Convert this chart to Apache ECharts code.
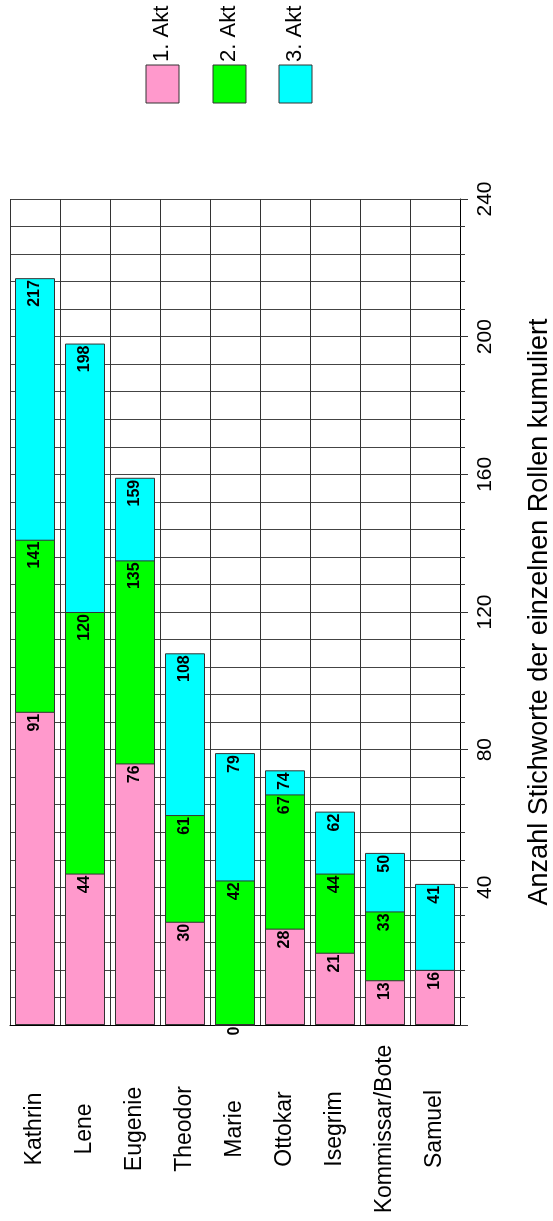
<!DOCTYPE html>
<html>
<head>
<meta charset="utf-8">
<script src="https://cdn.jsdelivr.net/npm/echarts@6/dist/echarts.min.js"></script>
<style>
  html, body { margin: 0; padding: 0; background: #fff; }
  #chart { width: 553px; height: 1221px; }
</style>
</head>
<body>
<div id="chart"></div>
<script>
// Roles of the play, in the order they appear along the category axis
const roles = ['Kathrin', 'Lene', 'Eugenie', 'Theodor', 'Marie', 'Ottokar', 'Isegrim', 'Kommissar/Bote', 'Samuel'];

// Cue counts per role, accumulated act by act
const act1Cumulative = [91, 44, 76, 30, 0, 28, 21, 13, 16];
const act2Cumulative = [141, 120, 135, 61, 42, 67, 44, 33, 16];
const act3Cumulative = [217, 198, 159, 108, 79, 74, 62, 50, 41];

const actNames = ['1. Akt', '2. Akt', '3. Akt'];
const actColors = ['#ff99cc', '#00ff00', '#00ffff'];

const valueTicks = { min: 0, max: 240, interval: 40 };
const axisTitle = 'Anzahl Stichworte der einzelnen Rollen kumuliert';

const FONT = "'Liberation Sans', Arial, sans-serif";

const chart = echarts.init(document.getElementById('chart'), null, { renderer: 'canvas' });

function barSeries(name, data, color, z) {
  return {
    name: name,
    type: 'bar',
    data: data,
    barWidth: 40,
    barGap: '-100%',
    z: z,
    itemStyle: { color: color, borderColor: '#333', borderWidth: 1 },
    label: {
      show: true,
      position: 'insideTop',
      rotate: 90,
      align: 'right',
      verticalAlign: 'middle',
      distance: 2,
      fontFamily: FONT,
      fontWeight: 'bold',
      fontSize: 16,
      color: '#000'
    },
    emphasis: { disabled: true }
  };
}

// Legend drawn as rotated text above coloured boxes
const legendGraphics = [];
const legendX = [146, 213, 279];
actNames.forEach(function (name, i) {
  legendGraphics.push({
    type: 'rect',
    shape: { x: legendX[i], y: 65, width: 33, height: 38 },
    style: { fill: actColors[i], stroke: '#333', lineWidth: 1 }
  });
  legendGraphics.push({
    type: 'text',
    x: legendX[i] + 16,
    y: 62,
    rotation: Math.PI / 2,
    style: {
      text: name,
      fontFamily: FONT,
      fontSize: 22,
      fill: '#000',
      align: 'left',
      verticalAlign: 'middle'
    }
  });
});

const option = {
  animation: false,
  backgroundColor: '#fff',
  grid: { left: 10, right: 93, top: 199, bottom: 196, containLabel: false, outerBoundsMode: 'none' },
  xAxis: {
    type: 'category',
    data: roles,
    axisLine: { show: true, lineStyle: { color: '#000', width: 1 } },
    axisTick: { show: false },
    splitLine: { show: true, interval: 0, lineStyle: { color: '#333', width: 1 } },
    axisLabel: {
      interval: 0,
      rotate: 90,
      align: 'center',
      verticalAlign: 'middle',
      margin: 104,
      fontFamily: FONT,
      fontSize: 23,
      color: '#000'
    }
  },
  yAxis: {
    type: 'value',
    position: 'right',
    min: valueTicks.min,
    max: valueTicks.max,
    interval: valueTicks.interval,
    name: axisTitle,
    nameLocation: 'middle',
    nameRotate: 90,
    nameGap: 66,
    nameTextStyle: { fontFamily: FONT, fontSize: 27, color: '#000' },
    axisLine: { show: true, lineStyle: { color: '#000', width: 1 } },
    axisTick: { show: true, length: 8, lineStyle: { color: '#333' } },
    minorTick: { show: true, splitNumber: 5, length: 5, lineStyle: { color: '#333' } },
    splitLine: { show: true, lineStyle: { color: '#444', width: 1 } },
    minorSplitLine: { show: true, lineStyle: { color: '#444', width: 1 } },
    axisLabel: {
      rotate: 90,
      margin: 15,
      fontFamily: FONT,
      fontSize: 21,
      color: '#000',
      formatter: function (v) { return v === 0 ? '' : String(v); }
    }
  },
  series: [
    barSeries(actNames[0], act1Cumulative, actColors[0], 4),
    barSeries(actNames[1], act2Cumulative, actColors[1], 3),
    barSeries(actNames[2], act3Cumulative, actColors[2], 2)
  ],
  graphic: legendGraphics
};

chart.setOption(option);
</script>
</body>
</html>
